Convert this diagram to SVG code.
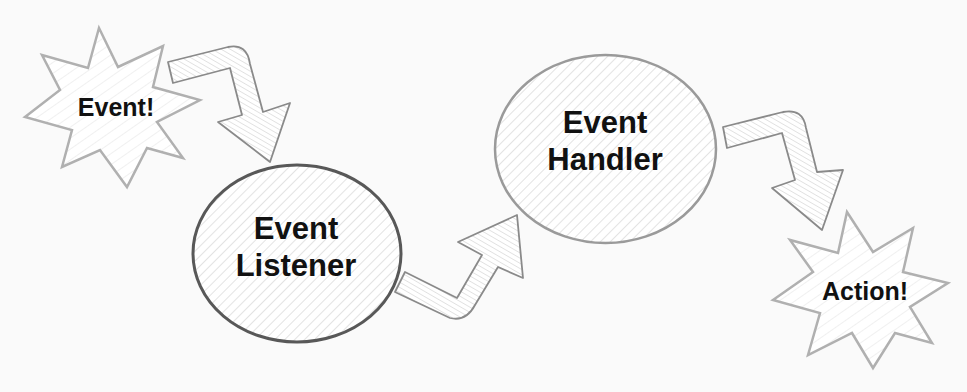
<svg xmlns="http://www.w3.org/2000/svg" width="967" height="392" viewBox="0 0 967 392">
  <defs>
    <pattern id="hatchNode" width="7" height="7" patternUnits="userSpaceOnUse" patternTransform="rotate(45)">
      <line x1="0" y1="0" x2="0" y2="7" stroke="#c8c8c8" stroke-width="1"/>
    </pattern>
    <pattern id="hatchStar" width="9" height="9" patternUnits="userSpaceOnUse" patternTransform="rotate(55)">
      <line x1="0" y1="0" x2="0" y2="9" stroke="#e2e2e2" stroke-width="1"/>
    </pattern>
    <pattern id="hatchArrow" width="4.5" height="4.5" patternUnits="userSpaceOnUse" patternTransform="rotate(-60)">
      <line x1="0" y1="0" x2="0" y2="4.5" stroke="#c4c4c4" stroke-width="0.9"/>
    </pattern>
    <style>
      .bg { fill: #fafafa; }
      .base { fill: #ffffff; stroke: none; }
      .star { fill: url(#hatchStar); stroke: #b0b0b0; stroke-width: 2.5; stroke-linejoin: miter; }
      .ell1 { fill: url(#hatchNode); stroke: #585858; stroke-width: 3; }
      .ell2 { fill: url(#hatchNode); stroke: #9a9a9a; stroke-width: 2.5; }
      .arrow { fill: url(#hatchArrow); stroke: #8a8a8a; stroke-width: 1.8; stroke-linejoin: round; }
      .label { font-family: "Liberation Sans", Arial, Helvetica, sans-serif; font-weight: bold; fill: #111111; text-anchor: middle; }
      .big { font-size: 31px; }
      .small { font-size: 25px; }
    </style>
  </defs>

  <rect class="bg" x="0" y="0" width="967" height="392"/>

  <g id="connectors">
    <g id="arrow-event-listener">
      <path class="base" d="M168,62 L228,47 Q247,43 250,64 L263,112 L290,103 L270,162 L218,122 L242,115 L230,68 L173,83 Z"/>
      <path class="arrow" d="M168,62 L228,47 Q247,43 250,64 L263,112 L290,103 L270,162 L218,122 L242,115 L230,68 L173,83 Z"/>
    </g>
    <g id="arrow-listener-handler">
      <path class="base" d="M405,272 L457,298 L482,255 L458,242 L517,215 L523,278 L498,267 L475,305 Q466,322 450,318 L395,292 Z"/>
      <path class="arrow" d="M405,272 L457,298 L482,255 L458,242 L517,215 L523,278 L498,267 L475,305 Q466,322 450,318 L395,292 Z"/>
    </g>
    <g id="arrow-handler-action">
      <path class="base" d="M723,127 L783,112 Q803,108 806,128 L817,172 L843,170 L822,230 L772,188 L795,180 L782,133 L727,148 Z"/>
      <path class="arrow" d="M723,127 L783,112 Q803,108 806,128 L817,172 L843,170 L822,230 L772,188 L795,180 L782,133 L727,148 Z"/>
    </g>
  </g>

  <g id="node-event">
    <polygon class="base" points="99,28 118,67 163,46 153,87 200,100 157,122 183,158 147,148 127,187 100,150 62,167 72,130 25,117 60,90 42,55 88,68"/>
    <polygon class="star" points="99,28 118,67 163,46 153,87 200,100 157,122 183,158 147,148 127,187 100,150 62,167 72,130 25,117 60,90 42,55 88,68"/>
    <text class="label small" x="116" y="116">Event!</text>
  </g>

  <g id="node-listener">
    <ellipse class="base" cx="297" cy="253.5" rx="104" ry="88.5"/>
    <ellipse class="ell1" cx="297" cy="253.5" rx="104" ry="88.5"/>
    <text class="label big" x="296" y="239">Event</text>
    <text class="label big" x="296" y="276">Listener</text>
  </g>

  <g id="node-handler">
    <ellipse class="base" cx="605.5" cy="149" rx="110.5" ry="94"/>
    <ellipse class="ell2" cx="605.5" cy="149" rx="110.5" ry="94"/>
    <text class="label big" x="605" y="133">Event</text>
    <text class="label big" x="605" y="170">Handler</text>
  </g>

  <g id="node-action">
    <polygon class="base" points="847,212 873,252 913,228 903,272 948,283 910,307 932,343 895,333 873,368 852,333 808,355 820,313 773,300 813,272 790,240 838,253"/>
    <polygon class="star" points="847,212 873,252 913,228 903,272 948,283 910,307 932,343 895,333 873,368 852,333 808,355 820,313 773,300 813,272 790,240 838,253"/>
    <text class="label small" x="865" y="300">Action!</text>
  </g>
</svg>
